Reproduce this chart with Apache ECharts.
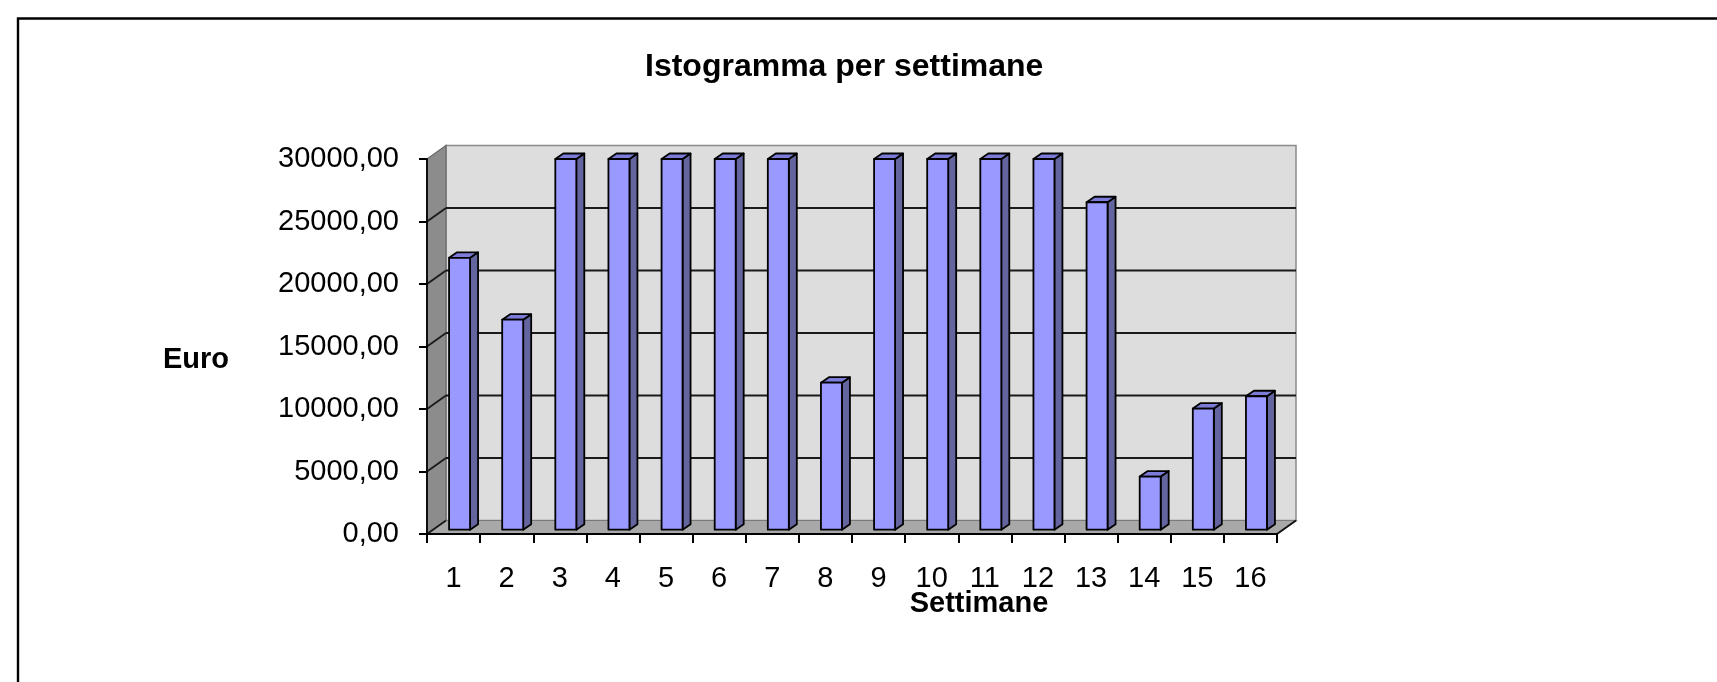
<!DOCTYPE html>
<html>
<head>
<meta charset="utf-8">
<title>Istogramma per settimane</title>
<script src="https://cdn.jsdelivr.net/npm/echarts@6/dist/echarts.min.js"></script>
<style>
  html, body { margin: 0; padding: 0; background: #fff; }
  #chart-view { width: 1717px; height: 682px; }
</style>
</head>
<body>
<div id="chart-view"></div>
<script>
  // dati
  const weeks = ['1', '2', '3', '4', '5', '6', '7', '8', '9', '10', '11', '12', '13', '14', '15', '16']
  const euro = [22000, 17000, 30000, 30000, 30000, 30000, 30000, 11900, 30000, 30000, 30000, 30000, 26500, 4300, 9800, 10800]
  const yTicks = [0, 5000, 10000, 15000, 20000, 25000, 30000]

  const FONT = '"Liberation Sans", Arial, sans-serif'
  const DEPTH = [19, -13.5]        // spostamento della parete di fondo
  const BAR_OFF = [6, -4.3]        // faccia frontale delle barre
  const BAR_DEPTH = [8, -5.5]      // profondità delle barre
  const BAR_SHRINK = 0.9885        // leggera prospettiva

  function fmt(v) {
    return v.toFixed(2).replace('.', ',')
  }

  function renderWalls(params, api) {
    let cs = params.coordSys
    let x0 = cs.x, x1 = cs.x + cs.width
    let yTop = cs.y, yBot = cs.y + cs.height
    let dx = DEPTH[0], dy = DEPTH[1]
    let children = [
      {
        type: 'polygon',
        shape: { points: [[x0 + dx, yTop + dy], [x1 + dx, yTop + dy], [x1 + dx, yBot + dy], [x0 + dx, yBot + dy]] },
        style: { fill: '#dddddd', stroke: '#8a8a8a', lineWidth: 1.5 }
      },
      {
        type: 'polygon',
        shape: { points: [[x0, yTop], [x0 + dx, yTop + dy], [x0 + dx, yBot + dy], [x0, yBot]] },
        style: { fill: '#8c8c8c', stroke: '#6a6a6a', lineWidth: 1.2 }
      },
      {
        type: 'polygon',
        shape: { points: [[x0, yBot], [x1, yBot], [x1 + dx, yBot + dy], [x0 + dx, yBot + dy]] },
        style: { fill: '#a8a8a8', stroke: '#7a7a7a', lineWidth: 1.2 }
      },
      {
        type: 'line',
        shape: { x1: x1, y1: yBot, x2: x1 + dx, y2: yBot + dy },
        style: { stroke: '#111', lineWidth: 1.8 }
      }
    ]
    yTicks.forEach(v => {
      let y = api.coord([0, v])[1]
      if (v > 0 && v < yTicks[yTicks.length - 1]) {
        children.push({
          type: 'line',
          shape: { x1: x0 + dx, y1: y + dy, x2: x1 + dx, y2: y + dy },
          style: { stroke: '#1a1a1a', lineWidth: 2 }
        })
      }
      if (v < yTicks[yTicks.length - 1]) {
        children.push({
          type: 'line',
          shape: { x1: x0, y1: y, x2: x0 + dx, y2: y + dy },
          style: { stroke: '#1a1a1a', lineWidth: 1.8 }
        })
      }
    })
    return { type: 'group', children: children }
  }

  function renderBar(params, api) {
    let top = api.coord([api.value(0), api.value(1)])
    let base = api.coord([api.value(0), 0])
    let band = api.size([1, 0])[0]
    let w = band * 0.395
    let h = (base[1] - top[1]) * BAR_SHRINK
    let fx = top[0] + BAR_OFF[0] - w / 2
    let bottom = base[1] + BAR_OFF[1]
    let ty = bottom - h
    let bx = BAR_DEPTH[0], by = BAR_DEPTH[1]
    let line = { stroke: '#000', lineWidth: 1.8, lineJoin: 'round' }
    return {
      type: 'group',
      children: [
        {
          type: 'polygon',
          shape: { points: [[fx + w, ty], [fx + w + bx, ty + by], [fx + w + bx, bottom + by], [fx + w, bottom]] },
          style: Object.assign({ fill: '#64649f' }, line)
        },
        {
          type: 'polygon',
          shape: { points: [[fx, ty], [fx + w, ty], [fx + w + bx, ty + by], [fx + bx, ty + by]] },
          style: Object.assign({ fill: '#7c7cd8' }, line)
        },
        {
          type: 'rect',
          shape: { x: fx, y: ty, width: w, height: h },
          style: Object.assign({ fill: '#9999ff' }, line)
        }
      ]
    }
  }

  let chart = echarts.init(document.getElementById('chart-view'))
  let option = {
    backgroundColor: '#ffffff',
    animation: false,
    title: {
      text: 'Istogramma per settimane',
      left: 645,
      top: 51,
      padding: 0,
      textStyle: { fontFamily: FONT, fontSize: 32, fontWeight: 'bold', color: '#000', lineHeight: 32 }
    },
    grid: {
      left: 427,
      right: 440,
      top: 159,
      bottom: 148
    },
    xAxis: {
      type: 'category',
      data: weeks,
      z: 5,
      axisLine: { lineStyle: { color: '#000', width: 1.8 } },
      axisTick: { show: true, interval: 0, length: 9, lineStyle: { color: '#000', width: 2 } },
      axisLabel: { interval: 0, margin: 30, fontFamily: FONT, fontSize: 29, color: '#000', lineHeight: 29 },
      splitLine: { show: false }
    },
    yAxis: {
      type: 'value',
      min: 0,
      max: 30000,
      interval: 5000,
      z: 5,
      axisLine: { show: true, lineStyle: { color: '#000', width: 1.8 } },
      axisTick: { show: true, length: 8, lineStyle: { color: '#000', width: 2 } },
      axisLabel: { margin: 28, fontFamily: FONT, fontSize: 29, color: '#000', formatter: fmt },
      splitLine: { show: false }
    },
    graphic: [
      {
        type: 'rect',
        silent: true,
        shape: { x: 18, y: 18.5, width: 1800, height: 800 },
        style: { fill: 'none', stroke: '#000', lineWidth: 2.4 }
      },
      {
        type: 'text',
        x: 196,
        y: 360,
        style: { text: 'Euro', font: 'bold 29px ' + FONT, fill: '#000', align: 'center', verticalAlign: 'middle' }
      },
      {
        type: 'text',
        x: 979,
        y: 604,
        style: { text: 'Settimane', font: 'bold 29px ' + FONT, fill: '#000', align: 'center', verticalAlign: 'middle' }
      }
    ],
    series: [
      {
        type: 'custom',
        z: 1,
        silent: true,
        renderItem: renderWalls,
        data: [[0, 0]]
      },
      {
        name: 'Euro',
        type: 'custom',
        z: 3,
        renderItem: renderBar,
        data: euro.map((v, i) => [i, v])
      }
    ]
  }
  chart.setOption(option)
</script>
</body>
</html>
